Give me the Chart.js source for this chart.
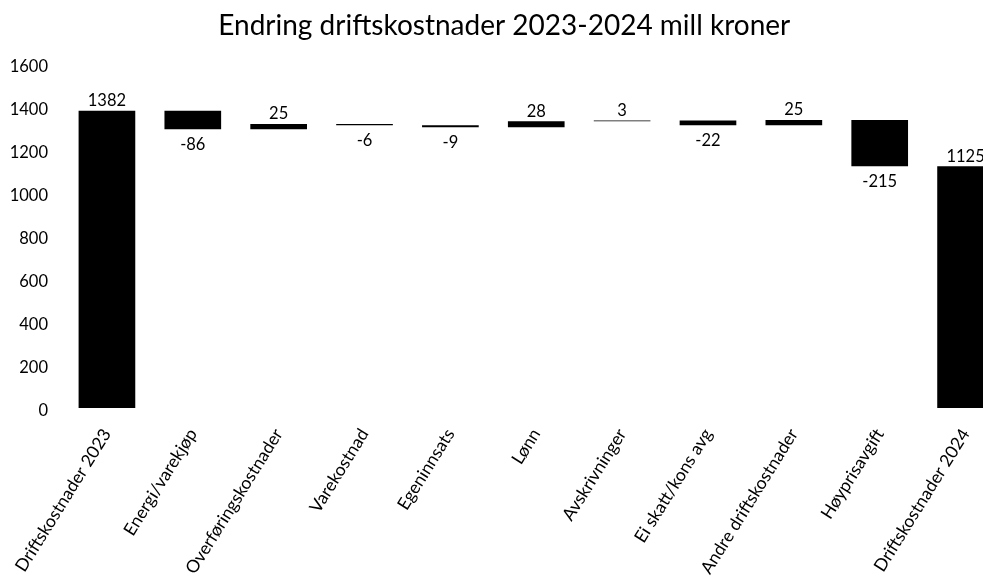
<!DOCTYPE html>
<html>
<head>
<meta charset="utf-8">
<script src="https://cdn.jsdelivr.net/npm/chart.js@4/dist/chart.umd.min.js"></script>
<style>
  html, body { margin: 0; padding: 0; background: #fff; overflow: hidden; width: 983px; height: 584px; }
  #wrap { position: absolute; left: 0; top: 0; width: 1024px; height: 640px; }
</style>
</head>
<body>
<div id="wrap"><canvas id="c" width="1024" height="640"></canvas></div>
<script>
const categories = [
  'Driftskostnader 2023', 'Energi/varekjøp', 'Overføringskostnader', 'Varekostnad',
  'Egeninnsats', 'Lønn', 'Avskrivninger', 'Ei skatt/kons avg',
  'Andre driftskostnader', 'Høyprisavgift', 'Driftskostnader 2024'
];
const values = [1382, -86, 25, -6, -9, 28, 3, -22, 25, -215, 1125];
const isTotal = [true, false, false, false, false, false, false, false, false, false, true];
const yMin = 0, yMax = 1600, yStep = 200;
const chartTitle = 'Endring driftskostnader 2023-2024 mill kroner';

// floating ranges for the waterfall
const ranges = [];
let running = 0;
values.forEach((v, i) => {
  if (isTotal[i]) { ranges.push([0, v]); running = v; }
  else { ranges.push([running, running + v]); running += v; }
});

const FONT = 'Lato, "Open Sans", sans-serif';

const labelPlugin = {
  id: 'wfLabels',
  afterDatasetsDraw(chart) {
    const ctx = chart.ctx;
    const y = chart.scales.y;
    const meta = chart.getDatasetMeta(0);
    ctx.save();
    ctx.font = '16.5px ' + FONT;
    ctx.fillStyle = '#000';
    ctx.textAlign = 'center';
    ctx.textBaseline = 'alphabetic';
    values.forEach((v, i) => {
      const bar = meta.data[i];
      const top = y.getPixelForValue(Math.max(ranges[i][0], ranges[i][1]));
      const bot = y.getPixelForValue(Math.min(ranges[i][0], ranges[i][1]));
      if (isTotal[i] || v >= 0) {
        ctx.fillText(String(v), bar.x, top - 4.5);
      } else {
        ctx.fillText(String(v), bar.x, bot + 21);
      }
    });
    ctx.restore();
  }
};

new Chart(document.getElementById('c'), {
  type: 'bar',
  data: {
    labels: categories,
    datasets: [{
      data: ranges,
      backgroundColor: '#000',
      borderColor: '#000',
      borderWidth: 0,
      borderSkipped: false,
      barPercentage: 0.66,
      categoryPercentage: 1.0
    }]
  },
  plugins: [labelPlugin],
  options: {
    responsive: false,
    devicePixelRatio: 1,
    animation: false,
    layout: { padding: { left: 0, right: 15.5, top: 0, bottom: 0 } },
    plugins: {
      legend: { display: false },
      tooltip: { enabled: false },
      title: {
        display: true,
        text: chartTitle,
        color: '#000',
        font: { family: FONT, size: 28, weight: 'normal', lineHeight: 1.2 },
        padding: { top: 9, bottom: 21.4 }
      }
    },
    scales: {
      x: {
        grid: { display: false, drawTicks: false },
        border: { display: false },
        ticks: {
          color: '#000',
          font: { family: FONT, size: 17.5 },
          minRotation: 58,
          maxRotation: 58,
          autoSkip: false,
          padding: 17
        },
        afterFit(s) { s.height = 232; s.paddingLeft = 0; s.paddingRight = 0; }
      },
      y: {
        min: yMin,
        max: yMax,
        grid: { display: false, drawTicks: false },
        border: { display: false },
        ticks: {
          stepSize: yStep,
          color: '#000',
          font: { family: FONT, size: 16.5 },
          padding: 16,
          labelOffset: 3,
          callback: (v) => String(v)
        },
        afterFit(s) { s.width = 64; s.paddingTop = 0; s.paddingBottom = 0; }
      }
    }
  }
});
</script>
</body>
</html>
